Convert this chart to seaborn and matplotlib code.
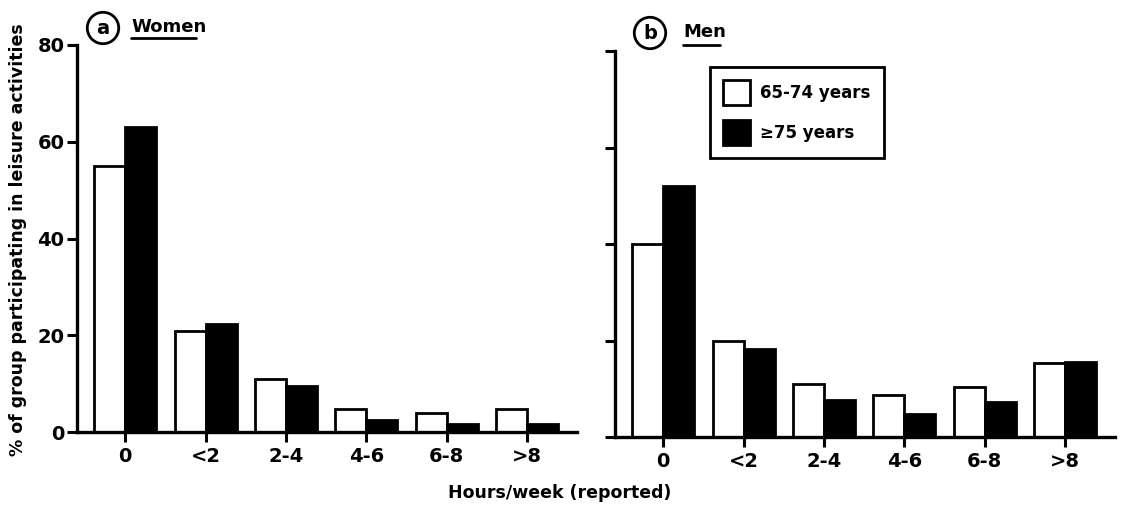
import matplotlib
matplotlib.use("Agg")
import matplotlib.pyplot as plt
import seaborn as sns
import pandas as pd
from matplotlib.lines import Line2D

# ---- data ----
hours = ["0", "<2", "2-4", "4-6", "6-8", ">8"]
age_groups = ["65-74 years", "\u226575 years"]
women_65_74 = [55, 20.8, 11.0, 4.7, 4.0, 4.7]
women_75plus = [63, 22.4, 9.5, 2.4, 1.7, 1.7]
men_65_74 = [40, 19.9, 11.0, 8.8, 10.3, 15.4]
men_75plus = [52, 18.2, 7.6, 4.7, 7.2, 15.5]
y_ticks = [0, 20, 40, 60, 80]


def long_df(a, b):
    return pd.DataFrame({
        "hours": hours * 2,
        "pct": list(a) + list(b),
        "age": [age_groups[0]] * len(hours) + [age_groups[1]] * len(hours),
    })


sns.set_style("ticks")
plt.rcParams["font.family"] = ["DejaVu Sans"]
plt.rcParams["font.weight"] = "bold"
for k in ["text.color", "axes.edgecolor", "axes.labelcolor",
          "xtick.color", "ytick.color", "xtick.labelcolor", "ytick.labelcolor"]:
    plt.rcParams[k] = "black"

W, H = 1122, 505
fig = plt.figure(figsize=(W / 100, H / 100), dpi=100)

axL = fig.add_axes([77 / W, 1 - 432 / H, 500 / W, (432 - 45) / H])
axR = fig.add_axes([615 / W, 1 - 437 / H, 500 / W, (437 - 51) / H])

palette = {age_groups[0]: "white", age_groups[1]: "black"}

for ax, a, b, show_leg in [(axL, women_65_74, women_75plus, False),
                           (axR, men_65_74, men_75plus, True)]:
    sns.barplot(data=long_df(a, b), x="hours", y="pct", hue="age",
                order=hours, hue_order=age_groups, palette=palette,
                edgecolor="black", linewidth=2.0, width=0.77,
                legend=show_leg, ax=ax)
    ax.set_xlim(-0.6, 5.62)
    ax.set_ylim(0, 80)
    ax.set_yticks(y_ticks)
    ax.set_xlabel("")
    ax.set_ylabel("")
    sns.despine(ax=ax)
    for s in ["left", "bottom"]:
        ax.spines[s].set_linewidth(2.4)
        ax.spines[s].set_color("black")
    ax.tick_params(axis="both", length=7, width=2.2, color="black",
                   labelcolor="black")
    ax.tick_params(axis="x", labelsize=14, pad=4)
    ax.tick_params(axis="y", labelsize=14, pad=2)
    for lbl in ax.get_xticklabels() + ax.get_yticklabels():
        lbl.set_fontweight("bold")

axR.set_yticklabels([])

# legend
handles, labels = axR.get_legend_handles_labels()
if axR.get_legend() is not None:
    axR.get_legend().remove()
leg = fig.legend(handles, labels, loc="upper left",
                 bbox_to_anchor=(710 / W, 1 - 67 / H), borderaxespad=0,
                 frameon=True, fancybox=False, edgecolor="black",
                 framealpha=1,
                 prop={"size": 12, "weight": "bold"},
                 handlelength=1.6, handleheight=1.9, handletextpad=0.6,
                 labelspacing=0.9, borderpad=0.8)
leg.get_frame().set_linewidth(2.0)
for t in leg.get_texts():
    t.set_color("black")

# panel titles
fig.text(103 / W, 1 - 28 / H, "a", ha="center", va="center", fontsize=14,
         fontweight="bold",
         bbox=dict(boxstyle="circle,pad=0.32", fc="white", ec="black", lw=2.0))
fig.text(131 / W, 1 - 27 / H, "Women", ha="left", va="center", fontsize=13,
         fontweight="bold")
fig.add_artist(Line2D([131 / W, 196 / W], [1 - 38 / H, 1 - 38 / H],
                      color="black", lw=2.0))

fig.text(650 / W, 1 - 33 / H, "b", ha="center", va="center", fontsize=14,
         fontweight="bold",
         bbox=dict(boxstyle="circle,pad=0.32", fc="white", ec="black", lw=2.0))
fig.text(683 / W, 1 - 32 / H, "Men", ha="left", va="center", fontsize=13,
         fontweight="bold")
fig.add_artist(Line2D([683 / W, 720 / W], [1 - 45 / H, 1 - 45 / H],
                      color="black", lw=2.0))

# axis labels
fig.text(18 / W, 1 - 240 / H, "% of group participating in leisure activities",
         rotation=90, ha="center", va="center", fontsize=12.5, fontweight="bold")
fig.text(560 / W, 1 - 493 / H, "Hours/week (reported)", ha="center",
         va="center", fontsize=12.5, fontweight="bold")

fig.savefig("out.png", dpi=100)
